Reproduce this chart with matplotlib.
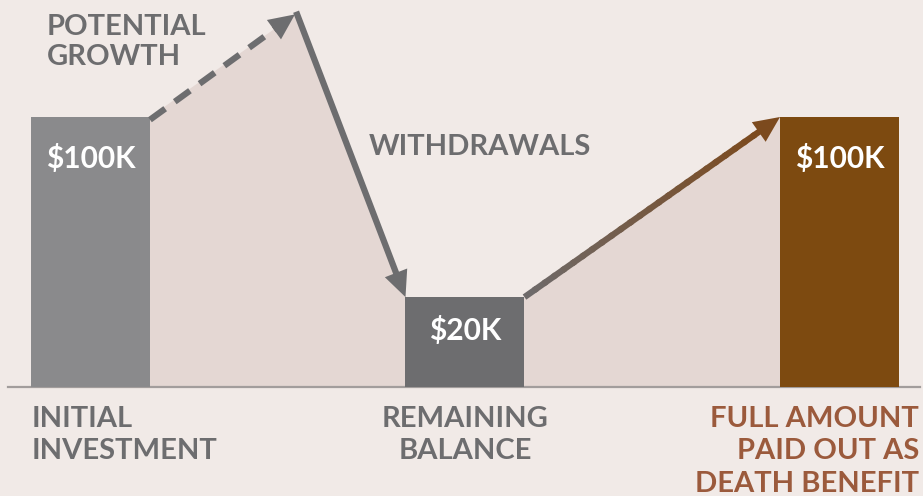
import matplotlib
matplotlib.use("Agg")
import matplotlib.pyplot as plt
import numpy as np
from matplotlib.patches import Polygon
from matplotlib.collections import LineCollection
from matplotlib.colors import to_rgb

plt.rcParams['font.family'] = ['Lato', 'DejaVu Sans']

# ---- data ----
categories = ["INITIAL\nINVESTMENT", "REMAINING\nBALANCE", "FULL AMOUNT\nPAID OUT AS\nDEATH BENEFIT"]
bar_heights = [100, 33.3, 100]          # visual heights (index, $100K = 100)
value_labels = ["$100K", "$20K", "$100K"]
potential_peak = 138                     # visual height of potential growth peak
peak_x = 0.546
annot_growth = "POTENTIAL\nGROWTH"
annot_withdraw = "WITHDRAWALS"

bg = "#f1eae7"
fill_c = "#e4d7d3"
gray_dark = "#6d6d6f"
bar_colors = ["#8a8a8c", "#6d6d6f", "#7d4a10"]
cat_colors = ["#6d6d6f", "#6d6d6f", "#9b5a3c"]

W, H = 923, 496
fig = plt.figure(figsize=(W/100, H/100), dpi=100, facecolor=bg)
ax = fig.add_axes([0, 0, 1, 1])
ax.set_facecolor(bg)
xpx0, xstep = 90.5, 374.5
ax.set_xlim(-xpx0/xstep, (W-xpx0)/xstep)
base_px = 109
ypu = 2.7
ax.set_ylim(-base_px/ypu, (H-base_px)/ypu)
ax.axis('off')

x = np.arange(3)
bw = 119/xstep
FS = 21
LS = 1.3

# filled area
poly = [(x[0]+bw/2, 0), (x[0]+bw/2, bar_heights[0]), (peak_x, potential_peak),
        (x[1]-bw/2, bar_heights[1]), (x[1]+bw/2, bar_heights[1]),
        (x[2]-bw/2, bar_heights[2]), (x[2]-bw/2, 0)]
ax.add_patch(Polygon(poly, closed=True, facecolor=fill_c, edgecolor='none', zorder=1))

# baseline
ax.plot([(8-xpx0)/xstep, (920-xpx0)/xstep], [0, 0], color="#a29d9c", lw=1.6, zorder=2)

# bars
ax.bar(x, bar_heights, width=bw, color=bar_colors, zorder=3)
for xi, h, lab in zip(x, bar_heights, value_labels):
    ax.text(xi, h - 15.5 if h > 50 else h - 12.5, lab, ha='center', va='center',
            color='white', fontsize=21.5, fontweight='bold', zorder=5)

# arrows helper (pixel space)
def to_px(p):
    return ax.transData.transform(p)

def head(p0, p1, color, L=26, Wd=24):
    a = to_px(p0); b = to_px(p1)
    d = (b - a) / np.linalg.norm(b - a)
    n = np.array([-d[1], d[0]])
    base = b - d*L
    tri = [b, base + n*Wd/2, base - n*Wd/2]
    inv = ax.transData.inverted()
    ax.add_patch(Polygon(inv.transform(tri), closed=True, facecolor=color,
                         edgecolor='none', zorder=6))
    return inv.transform(base + d*4)

# dashed growth arrow
p0 = (x[0]+bw/2, bar_heights[0] - 1); p1 = (peak_x, potential_peak)
hb = head(p0, p1, gray_dark)
ax.plot([p0[0], hb[0]], [p0[1], hb[1]], color=gray_dark, lw=4.5,
        dashes=(3.0, 1.9), solid_capstyle='butt', dash_capstyle='butt', zorder=6)

# withdrawals arrow
p0 = (peak_x, potential_peak); p1 = (x[1]-bw/2, bar_heights[1])
hb = head(p0, p1, gray_dark)
ax.plot([p0[0]+0.003, hb[0]], [p0[1]+1, hb[1]], color=gray_dark, lw=4.5,
        solid_capstyle='butt', zorder=6)

# gradient arrow to death benefit
p0 = (x[1]+bw/2, bar_heights[1]); p1 = (x[2]-bw/2, bar_heights[2])
hb = head(p0, p1, "#7c4a1e")
n = 25
xs = np.linspace(p0[0], hb[0], n+1); ys = np.linspace(p0[1], hb[1], n+1)
segs = [[(xs[i], ys[i]), (xs[min(i+1, n)] + (xs[1]-xs[0])*0.3*(i < n-1), ys[min(i+1, n)] + (ys[1]-ys[0])*0.3*(i < n-1))] for i in range(n)]
c0 = np.array(to_rgb("#6e6a6a")); c1 = np.array(to_rgb("#7c4a1e"))
cols = [c0 + (c1-c0)*t for t in np.linspace(0, 1, n)]
ax.add_collection(LineCollection(segs, colors=cols, linewidths=4.5, capstyle='butt',
                                 antialiaseds=True, zorder=6))

# annotations
ax.text((47-xpx0)/xstep, (H-14-base_px)/ypu, annot_growth, ha='left', va='top',
        color=gray_dark, fontsize=FS, fontweight='bold', linespacing=1.2)
ax.text((369-xpx0)/xstep, (H-147-base_px)/ypu, annot_withdraw, ha='left', va='center',
        color=gray_dark, fontsize=FS, fontweight='bold')

# category labels
ypos = (H-406-base_px)/ypu
ax.text((32-xpx0)/xstep, ypos, categories[0], ha='left', va='top', color=cat_colors[0],
        fontsize=FS, fontweight='bold', linespacing=LS)
ax.text(x[1], ypos, categories[1], ha='center', va='top', color=cat_colors[1],
        fontsize=FS, fontweight='bold', linespacing=LS, multialignment='center')
ax.text((919-xpx0)/xstep, ypos, categories[2], ha='right', va='top', color=cat_colors[2],
        fontsize=FS, fontweight='bold', linespacing=LS, multialignment='right')

fig.savefig("out.png", dpi=100, facecolor=bg)
